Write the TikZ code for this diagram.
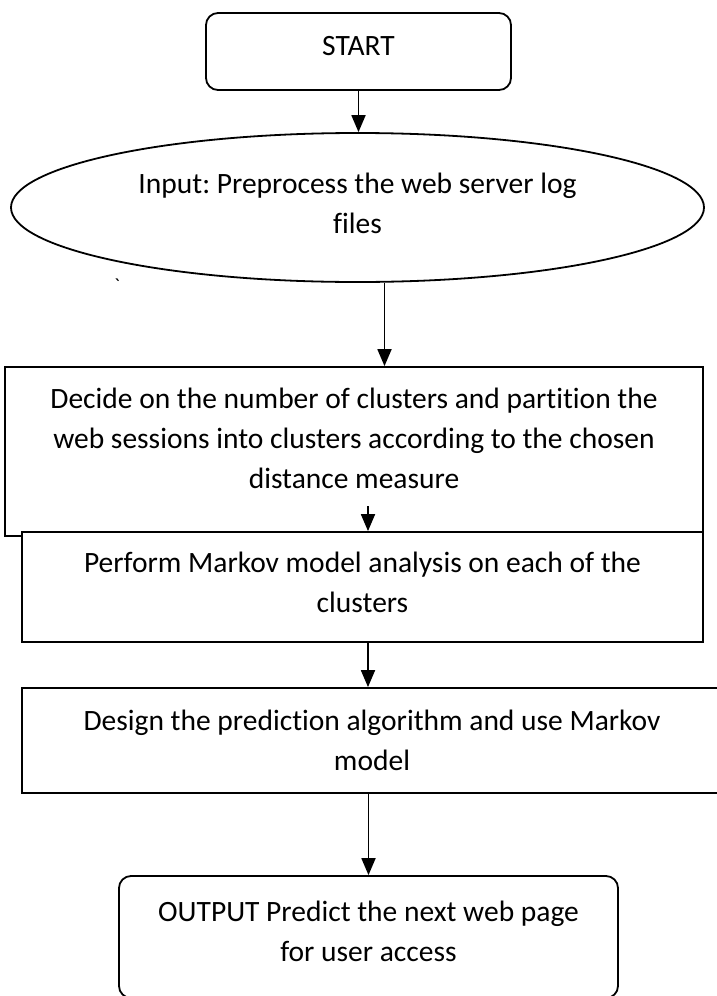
\documentclass[tikz,border=0pt]{standalone}
\usepackage{fontspec}
\setmainfont{Carlito}[Ligatures={TeX,NoCommon}]
\usetikzlibrary{shapes.geometric,arrows.meta}
\frenchspacing

\begin{document}
\begin{tikzpicture}[x=1pt,y=-1pt,
  box/.style={draw, line width=1.8pt, fill=white, align=center, inner sep=0pt},
  rbox/.style={box, rounded corners=12pt},
  arr/.style={line width=1.8pt, -{Triangle[length=17pt,width=14pt]}},
  font=\fontsize{29.5}{40}\selectfont]
\useasboundingbox (0,0) rectangle (717,996);
\node[rbox, minimum width=305pt, minimum height=77pt, text depth=12pt] (start) at (358.5,51.5) {START};
\node[box, ellipse, minimum width=693pt, minimum height=149pt, text depth=9pt] (input) at (357.5,207.5) {Input: Preprocess the web server log\\files};
\node[font=\fontsize{20}{24}\selectfont] (tick) at (117,286) {\textasciigrave};
\node[box, minimum width=698pt, minimum height=169pt, text depth=27pt] (decide) at (354,451.5) {Decide on the number of clusters and partition the\\web sessions into clusters according to the chosen\\distance measure};
\node[box, minimum width=681pt, minimum height=110pt, text depth=9pt] (perform) at (362.5,587) {Perform Markov model analysis on each of the\\clusters};
\node[box, minimum width=700pt, minimum height=105pt] (design) at (372,740.5) {Design the prediction algorithm and use Markov\\model};
\node[rbox, minimum width=499pt, minimum height=122pt, text depth=12pt] (output) at (368.5,937) {OUTPUT Predict the next web page\\for user access};
% arrows
\draw[arr] (start.south) -- (start.south |- input.north);
\draw[arr] ([xshift=27pt]input.south) -- ([xshift=27pt]input.south |- decide.north);
\draw[arr] ([xshift=5.5pt,yshift=25pt]perform.north) -- ([xshift=5.5pt]perform.north);
\draw[arr] ([xshift=5.5pt]perform.south) -- ([xshift=5.5pt]perform.south |- design.north);
\draw[arr] (output.north |- design.south) -- (output.north);
\end{tikzpicture}
\end{document}
